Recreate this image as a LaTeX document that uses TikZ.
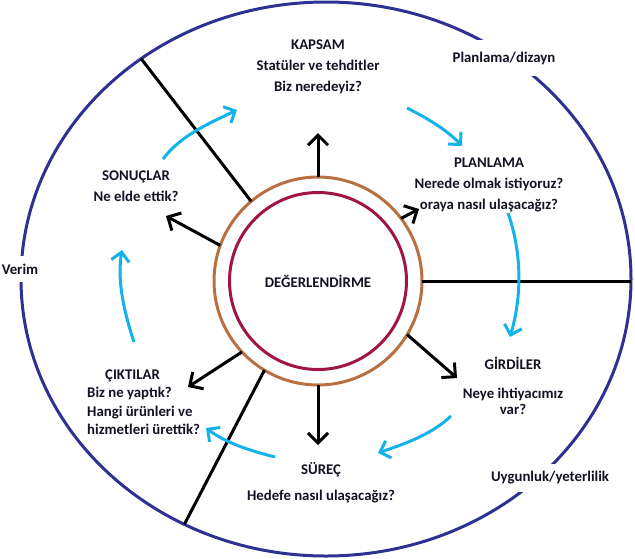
\documentclass[tikz,border=0pt]{standalone}
\usepackage{fontspec}
\setmainfont{Carlito}
\usetikzlibrary{arrows.meta,shapes.geometric}
\definecolor{rimblue}{RGB}{46,49,146}
\definecolor{ringbrown}{RGB}{184,112,64}
\definecolor{corered}{RGB}{160,20,70}
\definecolor{flowblue}{RGB}{20,178,235}
\definecolor{ink}{RGB}{18,18,34}

\begin{document}
\begin{tikzpicture}[x=1pt,y=-1pt,
	txt/.style={font=\bfseries\fontsize{14.8}{21}\selectfont, text=ink, align=center, inner sep=0pt},
	gap/.style={txt, fill=white, inner xsep=4pt, inner ysep=8pt},
	radial/.style={line width=3pt, -{Straight Barb[length=10pt,width=20pt]}},
	flow/.style={flowblue, line width=3pt, -{Straight Barb[length=9pt,width=18pt]}}]
		\useasboundingbox (0,0) rectangle (635,558);
		\node[ellipse, draw=rimblue, line width=3pt, minimum width=610, minimum height=554, outer sep=0pt] (rim) at (326,279) {};
		\node[circle, draw=ringbrown, line width=3pt, minimum size=208, outer sep=0pt] (ring) at (318,281) {};
		\node[circle, draw=corered, line width=3pt, minimum size=177, txt] (core) at (318,281) {DEĞERLENDİRME};

		\draw[line width=3pt] (ring.130) -- (rim.130);
		\draw[line width=3pt] (ring.239) -- (rim.240);
		\draw[line width=3pt] (ring.east) -- (ring.east -| rim.east);

		\coordinate (outN)  at (318,133);
		\coordinate (outNE) at (419,209);
		\coordinate (outNW) at (166,216);
		\coordinate (outSW) at (188,387);
		\coordinate (outS)  at (318,445);
		\coordinate (outSE) at (457,378);
		\draw[radial] (ring.90)  -- (outN);
		\draw[radial] (ring.37)  -- (outNE);
		\draw[radial] (ring.160) -- (outNW);
		\draw[radial] (ring.223) -- (outSW);
		\draw[radial] (ring.270) -- (outS);
		\draw[radial] (ring.329) -- (outSE);

		\coordinate (f1a) at (163,159); \coordinate (f1b) at (237,110);
		\coordinate (f2a) at (407,108); \coordinate (f2b) at (462,146);
		\coordinate (f3a) at (508,213); \coordinate (f3b) at (510,337);
		\coordinate (f4a) at (451,416); \coordinate (f4b) at (378,453);
		\coordinate (f5a) at (275,457); \coordinate (f5b) at (206,428);
		\coordinate (f6a) at (134,342); \coordinate (f6b) at (122,250);
		\draw[flow] (f1a) .. controls +(18,-24) and +(-27,13) .. (f1b);
		\draw[flow] (f2a) .. controls +(20,10) and +(-15,-16) .. (f2b);
		\draw[flow] (f3a) .. controls +(14,40) and +(12,-41) .. (f3b);
		\draw[flow] (f4a) .. controls +(-20,19) and +(26,-9) .. (f4b);
		\draw[flow] (f5a) .. controls +(-24,-6) and +(20,15) .. (f5b);
		\draw[flow] (f6a) .. controls +(-10,-30) and +(-5,31) .. (f6b);

		\node[txt] (kapsam) at (318,67) {KAPSAM\\Statüler ve tehditler\\Biz neredeyiz?};
		\node[txt] (planlama) at (489,185) {PLANLAMA\\Nerede olmak istiyoruz?\\oraya nasıl ulaşacağız?};
		\node[txt] (sonuclar) at (136,186) {SONUÇLAR\\Ne elde ettik?};
		\node[txt, align=left, anchor=west, font=\bfseries\fontsize{14.8}{18.5}\selectfont] (ciktilar) at (87,402) {\hspace*{18pt}ÇIKTILAR\\Biz ne yaptık?\\Hangi ürünleri ve\\hizmetleri ürettik?};
		\node[txt] (girdiler) at (513,386) {GİRDİLER\\[8pt]Neye ihtiyacımız\\[-5pt]var?};
		\node[txt] (surec) at (321,483) {SÜREÇ\\[5pt]Hedefe nasıl ulaşacağız?};

		\node[gap, inner ysep=12pt] (design) at (504,58) {Planlama/dizayn};
		\node[gap] (fit) at (550,478) {Uygunluk/yeterlilik};
		\node[gap, inner xsep=1pt] (yield) at (20,269) {Verim};
\end{tikzpicture}
\end{document}
